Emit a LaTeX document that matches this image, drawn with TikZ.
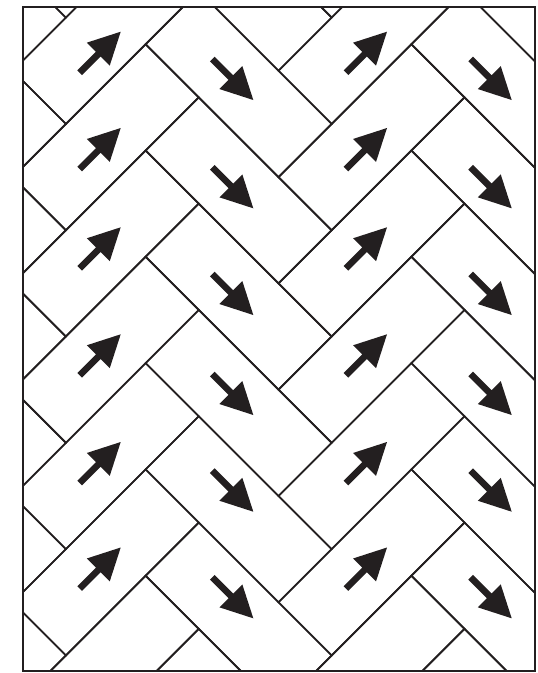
\documentclass[tikz,border=0pt]{standalone}
\definecolor{ink}{HTML}{231F20}
\begin{document}
\begin{tikzpicture}[x=1pt,y=-1pt,
  brick/.style={draw=ink, line width=1.7pt, line join=miter},
  frame/.style={draw=ink, line width=2.2pt},
  harrow/.pic={\fill[ink] (-29,-3.3) -- (-2.7,-3.3) -- (-2.7,-16.2) -- (29,0) -- (-2.7,16.2) -- (-2.7,3.3) -- (-29,3.3) -- cycle;}]
\useasboundingbox (0,0) rectangle (538,673);
\def\hbA{83.5}\def\hbB{-58}\def\hbW{106.3}\def\hbL{265.75}
\begin{scope}
\clip (23,7) rectangle (535,671);
\begin{scope}[x={(0.5pt,-0.5pt)},y={(0.5pt,0.5pt)}]
\foreach \k in {-3,...,8}{
 \foreach \m in {-2,...,3}{
  \pgfmathsetmacro\hpA{\hbA+\k*\hbW+\m*\hbL}
  \pgfmathsetmacro\hpB{\hpA+\hbW}
  \pgfmathsetmacro\hpC{\hpA+\hbL}
  \pgfmathsetmacro\hqA{\hbB-\k*\hbW+\m*\hbL}
  \pgfmathsetmacro\hqB{\hqA+\hbL}
  \pgfmathsetmacro\hqC{\hqB+\hbW}
  \draw[brick] (\hpA,\hqA) -- (\hpB,\hqA) -- (\hpB,\hqB) -- (\hpA,\hqB) -- cycle;
  \draw[brick] (\hpA,\hqB) -- (\hpC,\hqB) -- (\hpC,\hqC) -- (\hpA,\hqC) -- cycle;
 }}
\end{scope}
\end{scope}
\draw[frame] (23,7) rectangle (535,671);
\foreach \y in {52.2,148.5,247.8,354.8,462.5,568}{
  \pic[rotate=45] at (100.2,\y) {harrow};
  \pic[rotate=45] at (366.5,\y) {harrow};
}
\foreach \y in {79.5,187.8,294.5,394.5,491.2,597.8}{
  \pic[rotate=-45] at (232.8,\y) {harrow};
  \pic[rotate=-45] at (491.2,\y) {harrow};
}
\end{tikzpicture}
\end{document}
